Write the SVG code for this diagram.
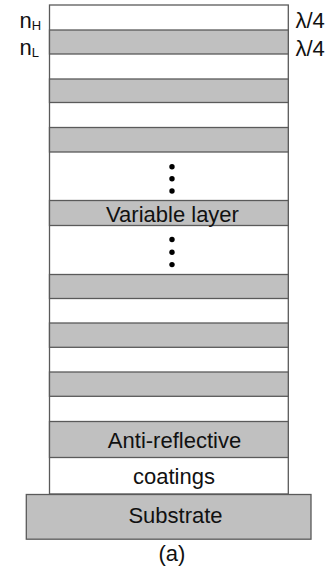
<svg xmlns="http://www.w3.org/2000/svg" width="331" height="572" viewBox="0 0 331 572">
<style>
.wh{fill:#ffffff;stroke:#5a5a5a;stroke-width:1.3}
.gr{fill:#c0c0c0;stroke:#5a5a5a;stroke-width:1.3}
.t{font-family:"Liberation Sans",Arial,Helvetica,sans-serif;font-size:22px;fill:#111;text-anchor:middle}
.lbl{font-family:"Liberation Sans",Arial,Helvetica,sans-serif;font-size:22px;fill:#111}
.sub{font-size:13px}
.dot{fill:#000}
</style>
<rect width="331" height="572" fill="#ffffff"/>
<g id="stack">
<rect class="wh" x="49.5" y="5" width="238.8" height="489"/>
</g>
<g id="layer-H-L">
<rect class="gr" x="49.5" y="30" width="238.8" height="24"/>
</g>
<g id="layer-2">
<rect class="gr" x="49.5" y="79" width="238.8" height="23.5"/>
</g>
<g id="layer-3">
<rect class="gr" x="49.5" y="127.5" width="238.8" height="24.5"/>
</g>
<g id="dots-1">
<circle class="dot" cx="172" cy="166.7" r="2.7"/>
<circle class="dot" cx="172" cy="178.8" r="2.7"/>
<circle class="dot" cx="172" cy="191" r="2.7"/>
</g>
<g id="variable-layer">
<rect class="gr" x="49.5" y="200.5" width="238.8" height="25"/>
<text class="t" x="172.5" y="222">Variable layer</text>
</g>
<g id="dots-2">
<circle class="dot" cx="172" cy="239.5" r="2.7"/>
<circle class="dot" cx="172" cy="252.2" r="2.7"/>
<circle class="dot" cx="172" cy="264.6" r="2.7"/>
</g>
<g id="layer-5">
<rect class="gr" x="49.5" y="274.5" width="238.8" height="24"/>
</g>
<g id="layer-6">
<rect class="gr" x="49.5" y="323" width="238.8" height="24.3"/>
</g>
<g id="layer-7">
<rect class="gr" x="49.5" y="372" width="238.8" height="24.3"/>
</g>
<g id="anti-reflective">
<rect class="gr" x="49.5" y="421.5" width="238.8" height="36"/>
<text class="t" x="174.5" y="447.5">Anti-reflective</text>
<text class="t" x="174" y="484">coatings</text>
</g>
<g id="substrate">
<rect class="gr" x="26.3" y="494.5" width="284.7" height="44.7"/>
<text class="t" x="175.5" y="523.3">Substrate</text>
</g>
<g id="labels">
<text class="lbl" x="19.5" y="27.5">n<tspan class="sub" dy="2.5">H</tspan></text>
<text class="lbl" x="19.5" y="54.5">n<tspan class="sub" dy="2.5">L</tspan></text>
<text class="lbl" x="295.5" y="28.3">λ/4</text>
<text class="lbl" x="295.5" y="56">λ/4</text>
<text class="t" x="172" y="561">(a)</text>
</g>
</svg>
